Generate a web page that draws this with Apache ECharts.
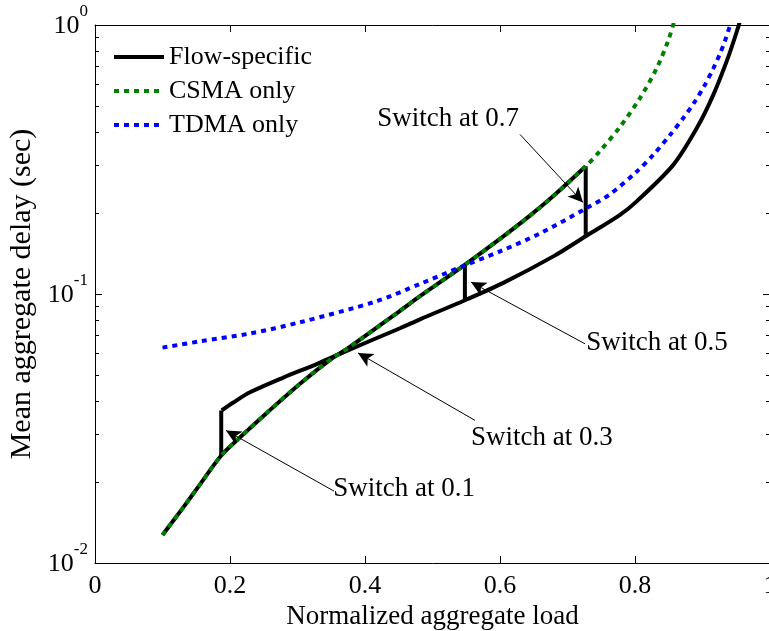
<!DOCTYPE html>
<html><head><meta charset="utf-8">
<script src="https://cdn.jsdelivr.net/npm/echarts@6/dist/echarts.min.js"></script>
<style>html,body{margin:0;padding:0;background:#fff}#c{width:769px;height:631px}</style>
</head><body><div id="c"></div>
<script>
// ---- data ----
const xTickLabels = ['0', '0.2', '0.4', '0.6', '0.8', '1'];
const yTickValues = [0.01, 0.1, 1];
const yTickExponents = ['-2', '-1', '0'];
const yMinorTicks = [0.02, 0.03, 0.04, 0.05, 0.06, 0.07, 0.08, 0.09, 0.2, 0.3, 0.4, 0.5, 0.6, 0.7, 0.8, 0.9];

const csmaX = [0.1, 0.130, 0.1556, 0.187, 0.2148, 0.2548, 0.3037, 0.3526, 0.3733, 0.4519, 0.4815, 0.5452, 0.6044, 0.6444, 0.6785, 0.727, 0.7481, 0.7778, 0.8074, 0.8321, 0.8489, 0.8578, 0.862];
const csmaY = [0.0127, 0.0160, 0.0196, 0.0251, 0.0293, 0.0362, 0.0464, 0.0580, 0.0625, 0.0866, 0.0981, 0.127, 0.1634, 0.1956, 0.2307, 0.2984, 0.340, 0.418, 0.535, 0.690, 0.871, 1.026, 1.12];

const tdmaX = [0.1, 0.1556, 0.2296, 0.3037, 0.4173, 0.4815, 0.5452, 0.6, 0.6593, 0.7274, 0.763, 0.8025, 0.8271, 0.8519, 0.8716, 0.8889, 0.9037, 0.916, 0.9259, 0.9333, 0.9407, 0.9481];
const tdmaY = [0.0632, 0.0667, 0.0713, 0.0785, 0.094, 0.109, 0.127, 0.144, 0.168, 0.208, 0.235, 0.285, 0.329, 0.390, 0.451, 0.520, 0.600, 0.689, 0.782, 0.873, 0.992, 1.105];

// Flow-specific: piece following CSMA up to the switch at 0.7
const flowCsmaX = [0.1, 0.130, 0.1556, 0.187, 0.2148, 0.2548, 0.3037, 0.3526, 0.3733, 0.4519, 0.4815, 0.5452, 0.6044, 0.6444, 0.6785, 0.727];
const flowCsmaY = [0.0127, 0.0160, 0.0196, 0.0251, 0.0293, 0.0362, 0.0464, 0.0580, 0.0625, 0.0866, 0.0981, 0.127, 0.1634, 0.1956, 0.2307, 0.2984];
// Flow-specific: branch after the switch at 0.1, then the lower envelope
const flowMainX = [0.1877, 0.2049, 0.2296, 0.279, 0.3284, 0.3729, 0.4519, 0.4815, 0.548, 0.6049, 0.679, 0.727, 0.7778, 0.8025, 0.8567, 0.8914, 0.916, 0.9382, 0.953, 0.9556];
const flowMainY = [0.0369, 0.0395, 0.0431, 0.0489, 0.0549, 0.0615, 0.0746, 0.0805, 0.0948, 0.110, 0.138, 0.164, 0.197, 0.221, 0.302, 0.413, 0.550, 0.761, 0.984, 1.04];
// Flow-specific: vertical switch jumps (at ~0.19, ~0.55, ~0.73)
const jump1X = [0.187, 0.187];   const jump1Y = [0.0251, 0.0369];
const jump2X = [0.548, 0.548];   const jump2Y = [0.128, 0.0948];
const jump3X = [0.727, 0.727];   const jump3Y = [0.2984, 0.164];

// annotations (data coordinates)
const annText = ['Switch at 0.7', 'Switch at 0.5', 'Switch at 0.3', 'Switch at 0.1'];
const annTextX = [0.523, 0.8326, 0.662, 0.4578];
const annTextY = [0.449, 0.0659, 0.0293, 0.0188];
const annFromX = [0.6296, 0.7259, 0.563, 0.3541];
const annFromY = [0.392, 0.0653, 0.0339, 0.0185];
const annTipX = [0.723, 0.557, 0.3896, 0.1941];
const annTipY = [0.219, 0.1107, 0.0604, 0.0311];

// ---- chart ----
const FONT = "'Liberation Serif', 'Times New Roman', serif";
const zip = (xs, ys) => xs.map((x, i) => [x, ys[i]]);
const chart = echarts.init(document.getElementById('c'));

function logAxis(pos, major, withLabel) {
  const ax = {
    type: 'log', logBase: 10, min: 0.01, max: 1, position: pos,
    axisLine: { show: major, lineStyle: { color: '#000', width: 1 } },
    axisTick: { show: true, inside: true, length: major ? 7 : 4, lineStyle: { color: '#000', width: 1 },
      customValues: major ? yTickValues : yMinorTicks },
    axisLabel: { show: false },
    splitLine: { show: false }, minorTick: { show: false }
  };
  if (withLabel) {
    ax.axisLabel = {
      show: true, customValues: yTickValues, margin: 7, padding: [0, 0, 17, 0],
      formatter: v => {
        const i = yTickValues.findIndex(t => Math.abs(Math.log10(t) - Math.log10(v)) < 1e-6);
        return '{b|10}{s|' + yTickExponents[i] + '}';
      },
      rich: {
        b: { fontSize: 26, fontFamily: FONT, color: '#000', lineHeight: 26, padding: [10, 0, 23, 0], verticalAlign: 'top' },
        s: { fontSize: 17, fontFamily: FONT, color: '#000', lineHeight: 17, padding: [0, 0, 42, 0], verticalAlign: 'top' }
      }
    };
    ax.name = 'Mean aggregate delay (sec)';
    ax.nameLocation = 'middle';
    ax.nameGap = 48;
    ax.nameTextStyle = { fontSize: 30, fontFamily: FONT, color: '#000' };
  }
  return ax;
}

const flowStyle = { color: '#000', width: 4 };
function flowSeries(xs, ys, smooth) {
  return { name: 'Flow-specific', type: 'line', symbol: 'none', smooth: smooth, data: zip(xs, ys),
    lineStyle: flowStyle, itemStyle: { color: '#000' }, z: 2 };
}

chart.setOption({
  animation: false,
  backgroundColor: '#fff',
  grid: { left: 95, right: -1, top: 25, bottom: 68, containLabel: false, outerBoundsMode: 'none' },
  legend: {
    data: ['Flow-specific', 'CSMA only', 'TDMA only'],
    orient: 'vertical', left: 112, top: 42, padding: 0,
    itemWidth: 50, itemHeight: 14, itemGap: 4,
    itemStyle: { opacity: 0 },
    lineStyle: { width: 4 },
    textStyle: { fontSize: 26, fontFamily: FONT, color: '#000', lineHeight: 30 }
  },
  xAxis: [
    {
      type: 'value', min: 0, max: 1, interval: 0.2, position: 'bottom',
      axisLine: { onZero: false, lineStyle: { color: '#000', width: 1 } },
      axisTick: { inside: true, length: 7, lineStyle: { color: '#000' } },
      axisLabel: { fontSize: 26, fontFamily: FONT, color: '#000', margin: 10,
        formatter: v => xTickLabels[Math.round(v / 0.2)] },
      splitLine: { show: false },
      name: 'Normalized aggregate load', nameLocation: 'middle', nameGap: 39,
      nameTextStyle: { fontSize: 27, fontFamily: FONT, color: '#000' }
    },
    {
      type: 'value', min: 0, max: 1, interval: 0.2, position: 'top',
      axisLine: { onZero: false, lineStyle: { color: '#000', width: 1 } },
      axisTick: { inside: true, length: 7, lineStyle: { color: '#000' } },
      axisLabel: { show: false }, splitLine: { show: false }
    }
  ],
  yAxis: [logAxis('left', true, true), logAxis('left', false, false), logAxis('right', true, false), logAxis('right', false, false)],
  series: [
    flowSeries(flowCsmaX, flowCsmaY, 0.3),
    flowSeries(flowMainX, flowMainY, 0.3),
    flowSeries(jump1X, jump1Y, false),
    flowSeries(jump2X, jump2Y, false),
    flowSeries(jump3X, jump3Y, false),
    { name: 'CSMA only', type: 'line', symbol: 'none', smooth: 0.3, data: zip(csmaX, csmaY),
      lineStyle: { color: '#008000', width: 4, type: [5, 5] }, itemStyle: { color: '#008000' }, z: 3 },
    { name: 'TDMA only', type: 'line', symbol: 'none', smooth: 0.3, data: zip(tdmaX, tdmaY),
      lineStyle: { color: '#0000ff', width: 4, type: [5, 5] }, itemStyle: { color: '#0000ff' }, z: 4 },
    { name: 'annotations', type: 'line', data: [], z: 5,
      markLine: {
        silent: true, symbol: ['none', 'arrow'], symbolSize: [11, 15],
        lineStyle: { color: '#000', width: 1, type: 'solid' }, label: { show: false },
        data: annText.map((t, i) => [{ coord: [annFromX[i], annFromY[i]] }, { coord: [annTipX[i], annTipY[i]] }])
      },
      markPoint: {
        silent: true, symbol: 'circle', symbolSize: 0,
        itemStyle: { color: 'rgba(0,0,0,0)' },
        label: { show: true, position: 'inside', formatter: '{b}', fontSize: 27, fontFamily: FONT, color: '#000' },
        data: annText.map((t, i) => ({ name: t, coord: [annTextX[i], annTextY[i]] }))
      }
    }
  ]
});
</script></body></html>
